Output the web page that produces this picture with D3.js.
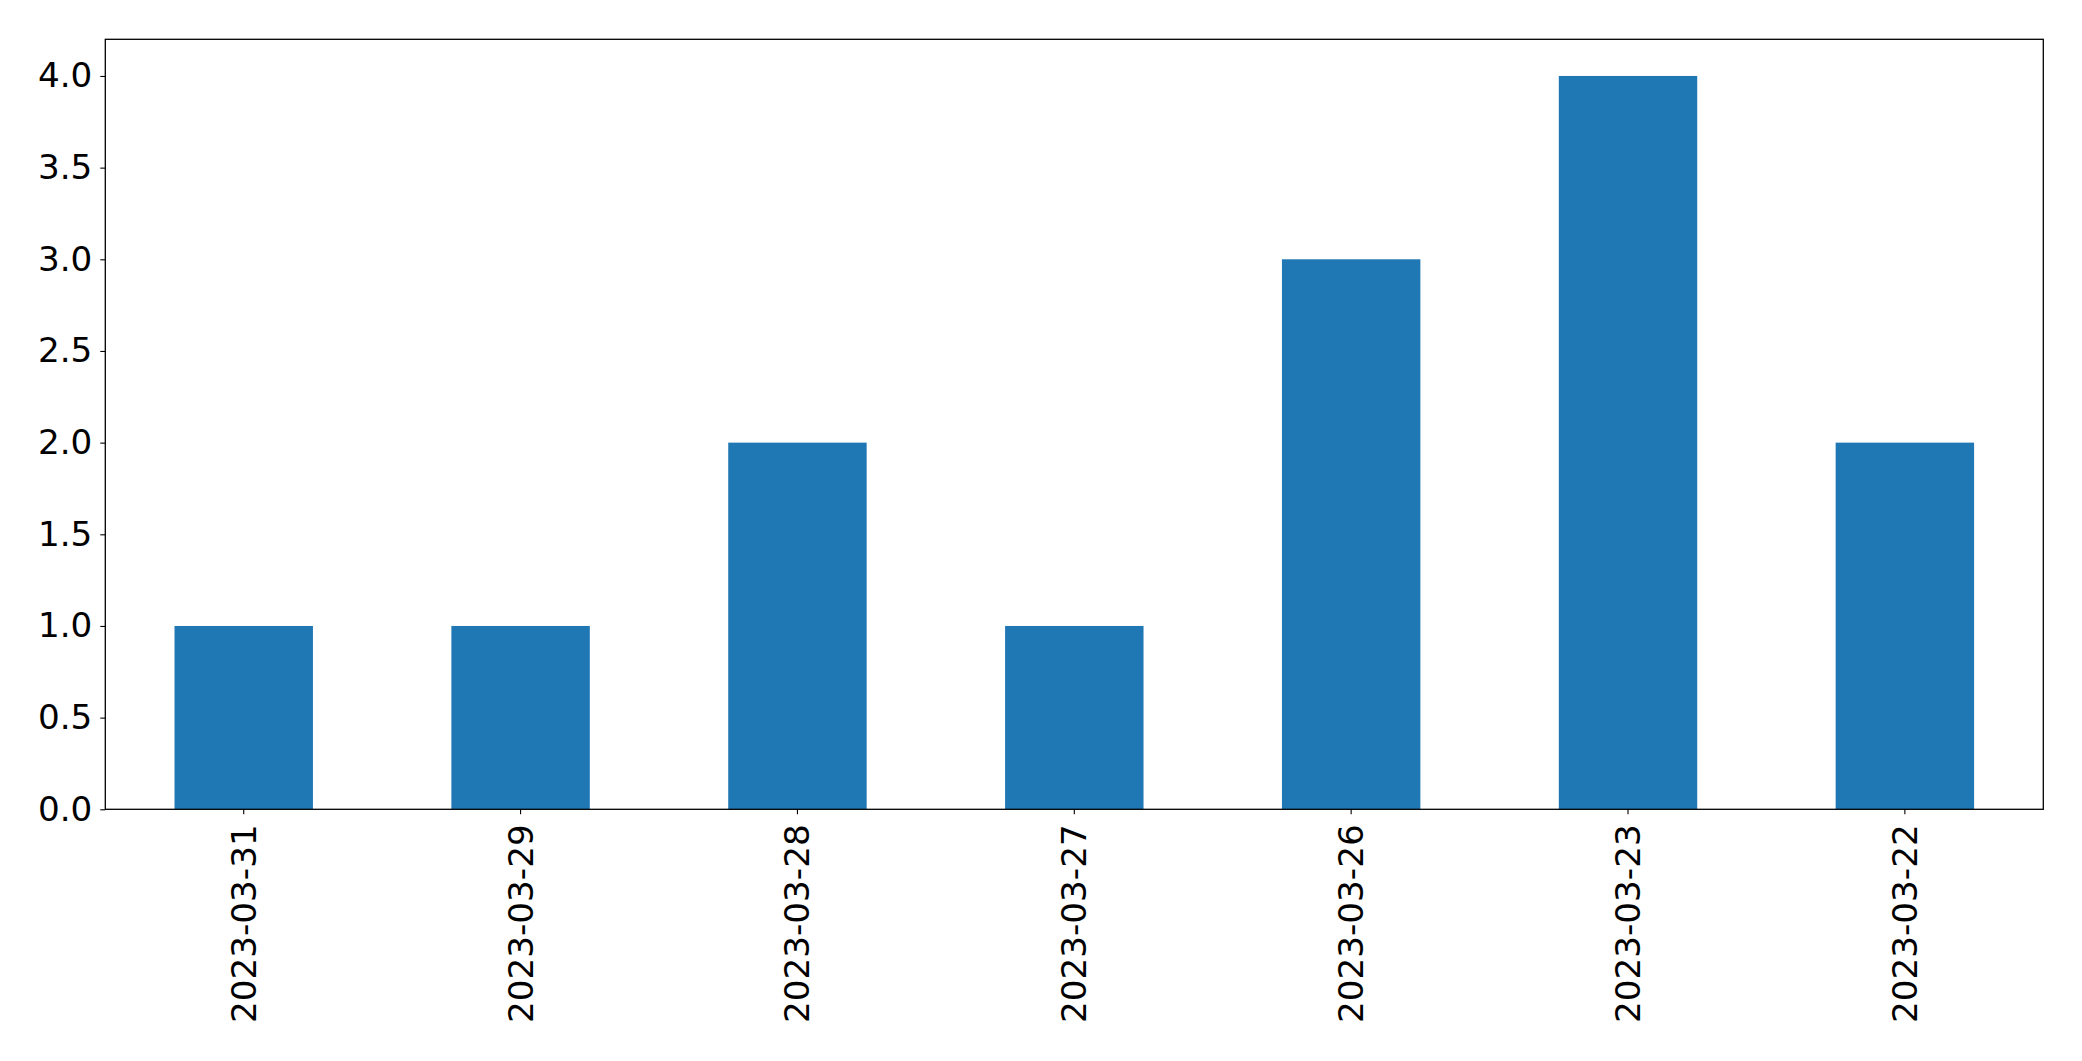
<!DOCTYPE html>
<html>
<head>
<meta charset="utf-8">
<script src="https://cdn.jsdelivr.net/npm/d3@7"></script>
<style>
html, body { margin: 0; padding: 0; background: #fff; }
svg { display: block; }
</style>
</head>
<body>
<script>
const categories = ["2023-03-31", "2023-03-29", "2023-03-28", "2023-03-27", "2023-03-26", "2023-03-23", "2023-03-22"];
const values = [1, 1, 2, 1, 3, 4, 2];
const yTicks = [0, 0.5, 1.0, 1.5, 2.0, 2.5, 3.0, 3.5, 4.0];

(function () {
const W = 2082, H = 1061;
const mLeft = 105.3, mRight = 2043.3, mTop = 39.3, mBottom = 809.3;
const fontSize = 34.2;

const svg = d3.select("body").append("svg").attr("width", W).attr("height", H);

const x = d3.scaleBand().domain(categories).range([mLeft, mRight]).paddingInner(0.5).paddingOuter(0.25);
const y = d3.scaleLinear().domain([0, 4.2]).range([mBottom, mTop]);

svg.append("g").selectAll("rect").data(values).join("rect")
  .attr("x", (d, i) => x(categories[i]))
  .attr("width", x.bandwidth())
  .attr("y", d => y(d))
  .attr("height", d => y(0) - y(d))
  .attr("fill", "#1f77b4");

svg.append("rect").attr("x", mLeft).attr("y", mTop).attr("width", mRight - mLeft).attr("height", mBottom - mTop)
  .attr("fill", "none").attr("stroke", "#000").attr("stroke-width", 1.3);

const yAxis = svg.append("g").attr("transform", `translate(${mLeft},0)`)
  .call(d3.axisLeft(y).tickValues(yTicks).tickFormat(d3.format(".1f")).tickSize(5).tickPadding(8));
yAxis.select(".domain").remove();
yAxis.selectAll("line").attr("stroke", "#000").attr("stroke-width", 1.1);
yAxis.selectAll("text").attr("font-family", "DejaVu Sans").attr("font-size", fontSize).attr("fill", "#000");

const xAxis = svg.append("g").attr("transform", `translate(0,${mBottom})`)
  .call(d3.axisBottom(x).tickSize(5).tickPadding(0));
xAxis.select(".domain").remove();
xAxis.selectAll("line").attr("stroke", "#000").attr("stroke-width", 1.1);
xAxis.selectAll("text")
  .attr("font-family", "DejaVu Sans").attr("font-size", fontSize).attr("fill", "#000")
  .attr("transform", "rotate(-90)")
  .attr("text-anchor", "end")
  .attr("x", -15)
  .attr("y", 0)
  .attr("dy", "0.35em");
})();
</script>
</body>
</html>
